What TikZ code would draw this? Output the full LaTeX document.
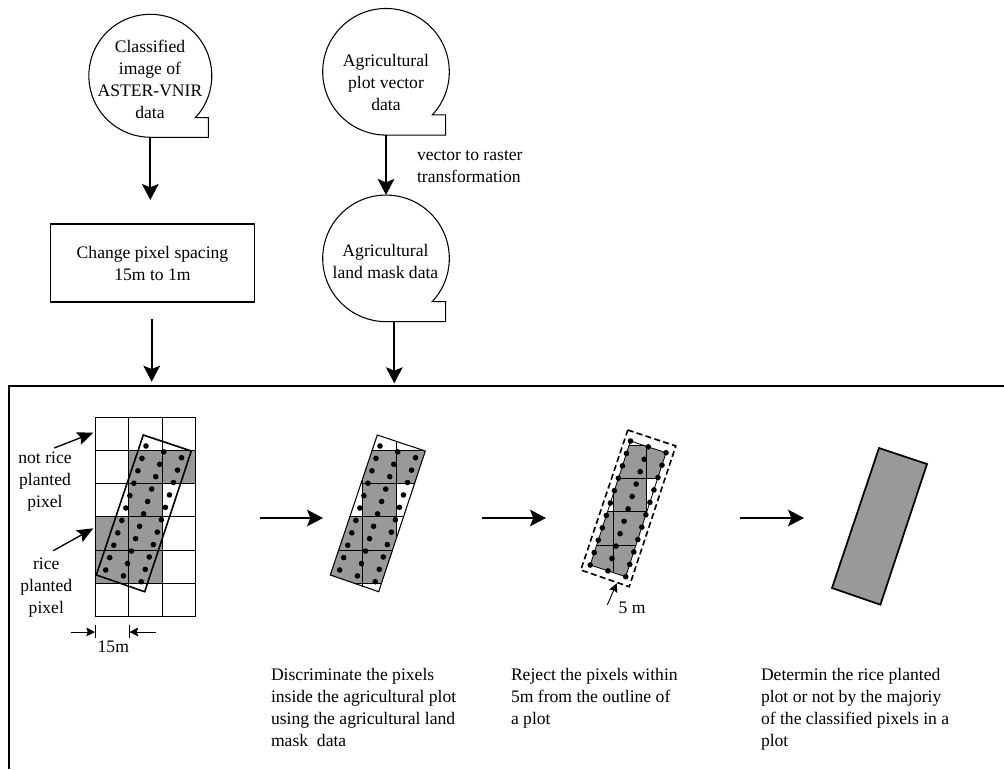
\documentclass[tikz,border=0pt]{standalone}
\usepackage{fontspec}
\setmainfont{Liberation Serif}
\usetikzlibrary{arrows.meta}
\definecolor{plotgrey}{rgb}{0.6,0.6,0.6}

\newcommand{\plotpath}{(143.3,435) -- (191.3,451) -- (144.7,591.7) -- (96.3,575) -- cycle}
\newcommand{\innerpath}{(146,446) -- (181.5,457.7) -- (141.2,581.7) -- (105.7,570) -- cycle}
\newcommand{\plotdots}{\foreach \i in {0,...,10} \foreach \j in {0,1,2} \fill (146-4.03*\i+17.77*\j,446+12.4*\i+5.87*\j) circle [radius=2.8];}
\newcommand{\pixelfill}{\foreach \c/\r in {1/1,2/1,1/2,0/3,1/3,0/4,1/4} \fill [plotgrey] (95.4+33.3*\c,417+33.3*\r) rectangle +(33.3,33.3);}
\newcommand{\pixelgrid}{\foreach \c in {0,...,3} \draw [line width=0.75pt] (95.4+33.3*\c,417) -- +(0,199.8);
  \foreach \r in {0,...,6} \draw [line width=0.75pt] (95.4,417+33.3*\r) -- +(99.9,0);}

\tikzset{
  tapenode/.style={circle,inner sep=0pt,outer sep=0pt},
  tapeline/.style={line width=0.8pt},
  flow/.style={line width=1.3pt,-{Stealth[length=12pt,width=12.5pt,inset=2.5pt]}},
  pointer/.style={line width=1pt,-{Stealth[length=12pt,width=10pt,inset=2pt]}},
  dimarrow/.style={line width=0.7pt,-{Stealth[length=6.5pt,width=6.5pt,inset=1pt]}},
  notetext/.style={align=left,anchor=north west,inner sep=0pt,outer sep=0pt},
  every node/.append style={font=\fontsize{13.2}{16.5}\selectfont}
}

\begin{document}
\begin{tikzpicture}[x=0.75pt,y=0.75pt,yscale=-1,xscale=1]
\useasboundingbox (0,0) rectangle (1004,769);

%Shape: Tape
\draw (150.3,75.8) node (classimg) [tapenode,minimum size=92.25pt] {};
\draw (386,71.7) node (plotvec) [tapenode,minimum size=95pt] {};
\draw (386,258.3) node (landmask) [tapenode,minimum size=95pt] {};
\draw [tapeline] (classimg.south) -- ++(58,0) -- ++(0,-19.6) -- ++(-13,0) arc [start angle=43,end angle=-270,radius=61.5];
\draw [tapeline] (plotvec.south) -- ++(59.7,0) -- ++(0,-20.1) -- ++(-13.4,0) arc [start angle=43,end angle=-270,radius=63.3];
\draw [tapeline] (landmask.south) -- ++(59.7,0) -- ++(0,-20.1) -- ++(-13.4,0) arc [start angle=43,end angle=-270,radius=63.3];
% Text Node
\draw (150,79.3) node (classtxt) [align=center] {Classified\\image of\\ASTER-VNIR\\data};
% Text Node
\draw (386,82.7) node (plotvectxt) [align=center] {Agricultural\\plot vector\\data};
% Text Node
\draw (385.5,261) node (landmasktxt) [align=center] {Agricultural\\land mask data};
%Shape: Rectangle
\draw (152.5,263) node (spacing) [draw,line width=1.3pt,align=center,minimum width=153pt,minimum height=58pt,inner sep=0pt] {Change pixel spacing\\15m to 1m};
% Text Node
\draw (417,151) node (rastertxt) [notetext] {vector to raster\\transformation};

%Shape: Frame
\draw [line width=1.3pt] (9,769) -- (9,385.7) -- (1004,385.7);

%Free ends of the arrows
\coordinate (classend) at (150.3,200);
\coordinate (spacingend) at (151.7,381.7);
\coordinate (maskend) at (394.3,383.3);
\coordinate (maskstart) at (394.3,321.6);
\coordinate (spacingstart) at (151.7,319.3);
%Straight Lines
\draw [flow] (classimg.south) -- (classend);
\draw [flow] (plotvec.south) -- (landmask.north);
\draw [flow] (spacingstart) -- (spacingend);
\draw [flow] (maskstart) -- (maskend);

%Pixels on the classified image
\pixelfill
\pixelgrid
\draw [line width=1.2pt] \plotpath;
\plotdots

%Pixels inside the plot
\begin{scope}[shift={(234,0)}]
\begin{scope}
\clip \plotpath;
\pixelfill
\pixelgrid
\end{scope}
\draw [line width=0.8pt] \plotpath;
\plotdots
\end{scope}

%Pixels away from the outline
\begin{scope}[shift={(484.5,-5)}]
\begin{scope}
\clip \innerpath;
\pixelfill
\pixelgrid
\end{scope}
\draw [line width=0.6pt] \innerpath;
\draw [line width=1.2pt,dash pattern={on 4.5pt off 2.5pt}] \plotpath;
\plotdots
\end{scope}

%Plot
\begin{scope}[shift={(735.7,13)}]
\draw [line width=1.3pt,fill=plotgrey] \plotpath;
\end{scope}

%Straight Lines between the panels
\coordinate (stepa) at (260,518);
\coordinate (stepb) at (323,518);
\coordinate (stepc) at (482,518);
\coordinate (stepd) at (546,518);
\coordinate (stepe) at (740,518);
\coordinate (stepf) at (804,518);
\draw [flow] (stepa) -- (stepb);
\draw [flow] (stepc) -- (stepd);
\draw [flow] (stepe) -- (stepf);

% Text Node
\draw (45,482) node (notrice) [align=center] {not rice\\planted\\pixel};
% Text Node
\draw (46.3,587.5) node (rice) [align=center] {rice\\planted\\pixel};
\coordinate (notricefrom) at (54.3,448);
\coordinate (ricefrom) at (53.3,550.7);
\coordinate (notricetip) at (93.3,432.7);
\coordinate (ricetip) at (93.3,528.3);
\draw [pointer] (notricefrom) -- (notricetip);
\draw [pointer] (ricefrom) -- (ricetip);

%Dimension of one pixel
\coordinate (ticka) at (95,625);
\coordinate (tickb) at (95,638);
\coordinate (tickc) at (129.5,625);
\coordinate (tickd) at (129.5,638);
\coordinate (dima) at (70.7,632);
\coordinate (dimb) at (95,632);
\coordinate (dimc) at (155.7,632);
\coordinate (dimd) at (129.5,632);
\draw [line width=0.6pt] (ticka) -- (tickb);
\draw [line width=0.6pt] (tickc) -- (tickd);
\draw [dimarrow] (dima) -- (dimb);
\draw [dimarrow] (dimc) -- (dimd);
% Text Node
\draw (113.3,647) node (pixeldim) {15m};

% Text Node
\draw (632,608) node (offsetdim) {5 m};
\coordinate (offsetfrom) at (607.3,605);
\coordinate (offsettip) at (616.7,583.3);
\draw [dimarrow] (offsetfrom) -- (offsettip);

% Text Node
\draw (271,668) node (discrim) [notetext] {Discriminate the pixels\\inside the agricultural plot\\using the agricultural land\\mask\ \ data};
% Text Node
\draw (511,668) node (reject) [notetext] {Reject the pixels within\\5m from the outline of\\a plot};
% Text Node
\draw (761,668) node (determin) [notetext] {Determin the rice planted\\plot or not by the majoriy\\of the classified pixels in a\\plot};
\end{tikzpicture}
\end{document}
